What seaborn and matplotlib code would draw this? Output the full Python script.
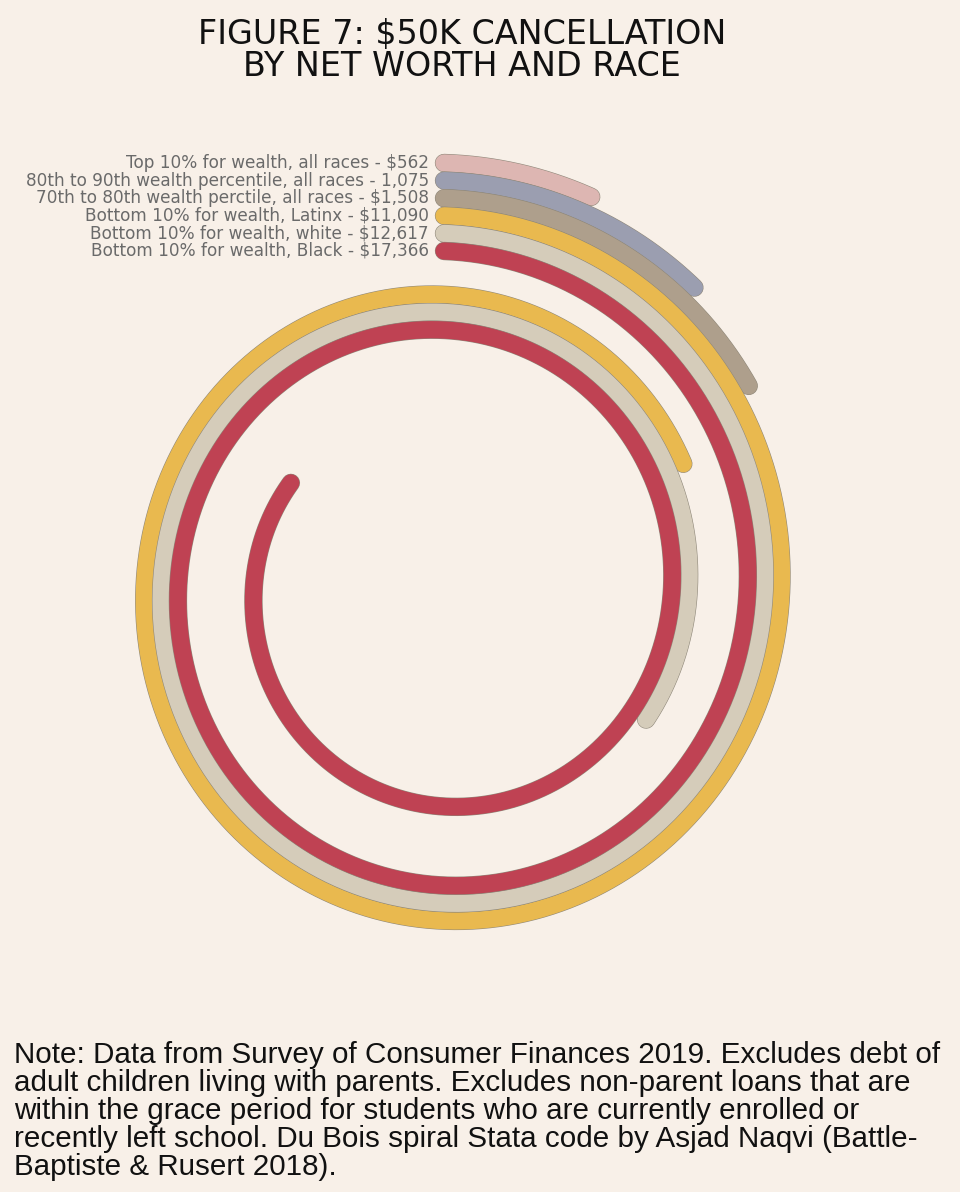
import numpy as np
import pandas as pd
import matplotlib.pyplot as plt
import matplotlib.patheffects as pe
import seaborn as sns

# ── data ──────────────────────────────────────────────────────────────────────
groups = [
    "Top 10% for wealth, all races",
    "80th to 90th wealth percentile, all races",
    "70th to 80th wealth perctile, all races",
    "Bottom 10% for wealth, Latinx",
    "Bottom 10% for wealth, white",
    "Bottom 10% for wealth, Black",
]
values = [562, 1075, 1508, 11090, 12617, 17366]
value_labels = ["$562", "1,075", "$1,508", "$11,090", "$12,617", "$17,366"]
colors = ["#DDB6B2", "#9B9EB0", "#AE9F8C", "#E9B94F", "#D5CCBA", "#BF4253"]

title_lines = ["FIGURE 7: $50K CANCELLATION", "BY NET WORTH AND RACE"]
note = ("Note: Data from Survey of Consumer Finances 2019. Excludes debt of\n"
        "adult children living with parents. Excludes non-parent loans that are\n"
        "within the grace period for students who are currently enrolled or\n"
        "recently left school. Du Bois spiral Stata code by Asjad Naqvi (Battle-\n"
        "Baptiste & Rusert 2018).")

# ── spiral geometry ──────────────────────────────────────────────────────────
BG = "#F8F0E8"
DEG_PER_DOLLAR = 663.3 / 17366   # degrees of turn per dollar
R_INNER = 337                    # start radius of the innermost series
PITCH = 17.6                     # distance between start radii
SHRINK = 79.0 / 360              # radius lost per degree turned
CX, CY = 444, 588                # spiral centre (pixels)
XSCALE = 0.957

n = len(values)
frames = []
start_r = []
for i, (g, v) in enumerate(zip(groups, values)):
    r0 = R_INNER + PITCH * (n - 1 - i)
    start_r.append(r0)
    turn = np.linspace(0, v * DEG_PER_DOLLAR, 800)
    r = r0 - SHRINK * turn
    ang = np.deg2rad(90 - turn)
    frames.append(pd.DataFrame({"x": r * np.cos(ang), "y": r * np.sin(ang), "group": g}))
df = pd.concat(frames, ignore_index=True)

plt.rcParams["font.family"] = ["DejaVu Sans"]

fig = plt.figure(figsize=(9.6, 11.92), dpi=100, facecolor=BG)
ax = fig.add_axes([0, 0, 1, 1])
ax.set_facecolor(BG)

sns.lineplot(data=df, x="x", y="y", hue="group", hue_order=groups, palette=colors,
             sort=False, estimator=None, linewidth=12.4, solid_capstyle="round",
             legend=False, ax=ax,
             path_effects=[pe.Stroke(linewidth=13.2, foreground="#8f887a"), pe.Normal()])

for g, lab, r0 in zip(groups, value_labels, start_r):
    ax.text(-15 / XSCALE, r0, f"{g} - {lab}", ha="right", va="center",
            fontsize=12.2, color="#6a6a6a")

ax.set_xlim(-CX / XSCALE, (960 - CX) / XSCALE)
ax.set_ylim(-(1192 - CY), CY)
ax.axis("off")

# title, one line at a time
for line, base in zip(title_lines, [44, 76]):
    fig.text(0.481, 1 - base / 1192, line, ha="center", va="baseline",
             fontsize=24, color="#111111")

fig.text(14 / 960, 1 - 1041 / 1192, note, ha="left", va="top",
         fontsize=21.3, linespacing=1.0, color="#111111",
         family=["Liberation Sans", "DejaVu Sans"])

fig.savefig("out.png", dpi=100, facecolor=BG)
